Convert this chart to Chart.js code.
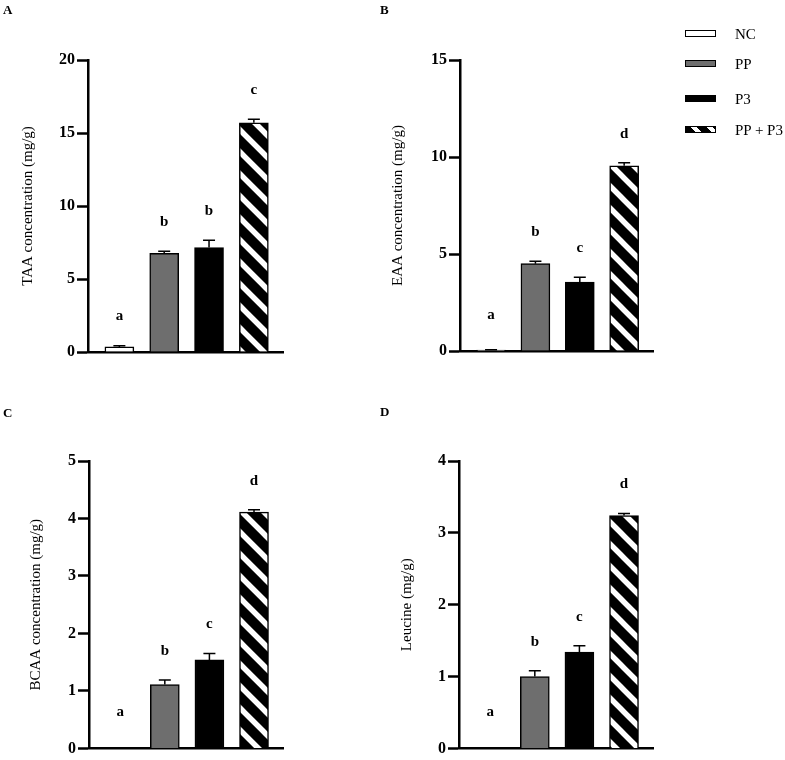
<!DOCTYPE html>
<html><head><meta charset="utf-8">
<script src="https://cdn.jsdelivr.net/npm/chart.js@4.4.1/dist/chart.umd.min.js"></script>
<style>
body{margin:0;background:#fff;}
#wrap{position:relative;width:785px;height:760px;background:#fff;font-family:"Liberation Serif","Times New Roman",serif;color:#000;overflow:hidden;}
canvas{position:absolute;}
.pl{position:absolute;font-weight:bold;font-size:13px;line-height:13px;}
.lg{position:absolute;font-size:15px;line-height:15px;left:735px;}
.sw{position:absolute;left:685px;width:29px;height:5px;border:1.5px solid #000;}
</style></head>
<body>
<div id="wrap">
  <canvas id="cA" width="380" height="380" style="left:0;top:0;width:380px;height:380px"></canvas>
  <canvas id="cB" width="405" height="380" style="left:380px;top:0;width:405px;height:380px"></canvas>
  <canvas id="cC" width="380" height="380" style="left:0;top:380px;width:380px;height:380px"></canvas>
  <canvas id="cD" width="405" height="380" style="left:380px;top:380px;width:405px;height:380px"></canvas>
  <div class="pl" style="left:3px;top:3px">A</div>
  <div class="pl" style="left:380px;top:3px">B</div>
  <div class="pl" style="left:3px;top:406px">C</div>
  <div class="pl" style="left:380px;top:405px">D</div>
  <div class="sw" style="top:30px;background:#fff"></div><div class="lg" style="top:27px">NC</div>
  <div class="sw" style="top:60px;background:#6e6e6e"></div><div class="lg" style="top:57px">PP</div>
  <div class="sw" style="top:95px;background:#000"></div><div class="lg" style="top:92px">P3</div>
  <div class="sw" style="top:126px;background:repeating-linear-gradient(45deg,#000 0 7px,#fff 7px 11px)"></div><div class="lg" style="top:123px">PP + P3</div>
</div>
<script>
const groups = ['NC', 'PP', 'P3', 'PP + P3'];

const taaMeans = [0.35, 6.75, 7.15, 15.7];
const taaErrors = [0.08, 0.15, 0.5, 0.25];
const taaLetters = ['a', 'b', 'b', 'c'];

const eaaMeans = [0.05, 4.5, 3.55, 9.55];
const eaaErrors = [0.02, 0.12, 0.25, 0.15];
const eaaLetters = ['a', 'b', 'c', 'd'];

const bcaaMeans = [0, 1.11, 1.54, 4.11];
const bcaaErrors = [0, 0.08, 0.11, 0.04];
const bcaaLetters = ['a', 'b', 'c', 'd'];

const leuMeans = [0, 1.0, 1.34, 3.24];
const leuErrors = [0, 0.08, 0.09, 0.03];
const leuLetters = ['a', 'b', 'c', 'd'];

const taaTicks = [0, 5, 10, 15, 20];
const eaaTicks = [0, 5, 10, 15];
const bcaaTicks = [0, 1, 2, 3, 4, 5];
const leuTicks = [0, 1, 2, 3, 4];

const SERIF = '"Liberation Serif", "Times New Roman", serif';

function makeHatch(ctx) {
  const s = 22;
  const c = document.createElement('canvas');
  c.width = s; c.height = s;
  const g = c.getContext('2d');
  g.fillStyle = '#000'; g.fillRect(0, 0, s, s);
  g.strokeStyle = '#fff'; g.lineWidth = 5.5;
  g.beginPath();
  for (const o of [-s, 0, s]) { g.moveTo(o - 2, -2); g.lineTo(o + s + 2, s + 2); }
  g.stroke();
  return ctx.createPattern(c, 'repeat');
}

const annot = {
  id: 'annot',
  afterDatasetsDraw(chart, args, opts) {
    const ctx = chart.ctx, meta = chart.getDatasetMeta(0), ys = chart.scales.y;
    const zero = ys.getPixelForValue(0);
    ctx.save();
    meta.data.forEach((bar, i) => {
      const m = opts.means[i], e = opts.errors[i];
      const top = ys.getPixelForValue(m + e);
      if (e > 0) {
        ctx.strokeStyle = '#000'; ctx.lineWidth = 1.5;
        ctx.beginPath();
        ctx.moveTo(bar.x, bar.y); ctx.lineTo(bar.x, top);
        ctx.moveTo(bar.x - 6, top); ctx.lineTo(bar.x + 6, top);
        ctx.stroke();
      }
      const ly = Math.min(top - 29, zero - 36);
      ctx.fillStyle = '#000';
      ctx.font = 'bold 15px ' + SERIF;
      ctx.textAlign = 'center'; ctx.textBaseline = 'middle';
      ctx.fillText(opts.letters[i], bar.x, ly);
    });
    ctx.restore();
  }
};

function makeChart(id, means, errors, letters, ticks, title, yWidth, titlePad, pad) {
  const canvas = document.getElementById(id);
  const ctx = canvas.getContext('2d');
  const hatch = makeHatch(ctx);
  const step = ticks[1] - ticks[0];
  return new Chart(ctx, {
    type: 'bar',
    data: {
      datasets: [{
        data: groups.map((g, i) => ({ x: i, y: means[i] })),
        backgroundColor: ['#ffffff', '#6e6e6e', '#000000', hatch],
        borderColor: '#000',
        borderWidth: 1.5,
        barThickness: 29,
        borderSkipped: 'bottom'
      }]
    },
    options: {
      responsive: false,
      animation: false,
      devicePixelRatio: 1,
      layout: { padding: pad },
      plugins: {
        legend: { display: false },
        tooltip: { enabled: false },
        annot: { means, errors, letters }
      },
      scales: {
        x: {
          type: 'linear', min: -0.7, max: 3.65, offset: false,
          ticks: { display: false },
          grid: { display: false },
          border: { display: true, color: '#000', width: 2.5 },
          afterFit: s => { s.height = 0; }
        },
        y: {
          min: ticks[0], max: ticks[ticks.length - 1],
          ticks: { stepSize: step, color: '#000', padding: 2, font: { family: SERIF, size: 16, weight: 'bold' } },
          grid: { display: true, drawOnChartArea: false, drawTicks: true, tickLength: 11, tickWidth: 2.5, tickColor: '#000' },
          border: { display: true, color: '#000', width: 2.5 },
          title: { display: true, text: title, color: '#000', font: { family: SERIF, size: 15 }, padding: { top: titlePad, bottom: 0 } },
          afterFit: s => { s.width = yWidth; }
        }
      }
    },
    plugins: [annot]
  });
}

makeChart('cA', taaMeans, taaErrors, taaLetters, taaTicks, 'TAA concentration (mg/g)', 88, 19, { left: 0, top: 60, right: 97, bottom: 28 });
makeChart('cB', eaaMeans, eaaErrors, eaaLetters, eaaTicks, 'EAA concentration (mg/g)', 80, 9.5, { left: 0, top: 60, right: 132, bottom: 29 });
makeChart('cC', bcaaMeans, bcaaErrors, bcaaLetters, bcaaTicks, 'BCAA concentration (mg/g)', 89, 27, { left: 0, top: 81, right: 97, bottom: 7 });
makeChart('cD', leuMeans, leuErrors, leuLetters, leuTicks, 'Leucine (mg/g)', 79, 18, { left: 0, top: 81, right: 132, bottom: 7 });
</script>
</body></html>
